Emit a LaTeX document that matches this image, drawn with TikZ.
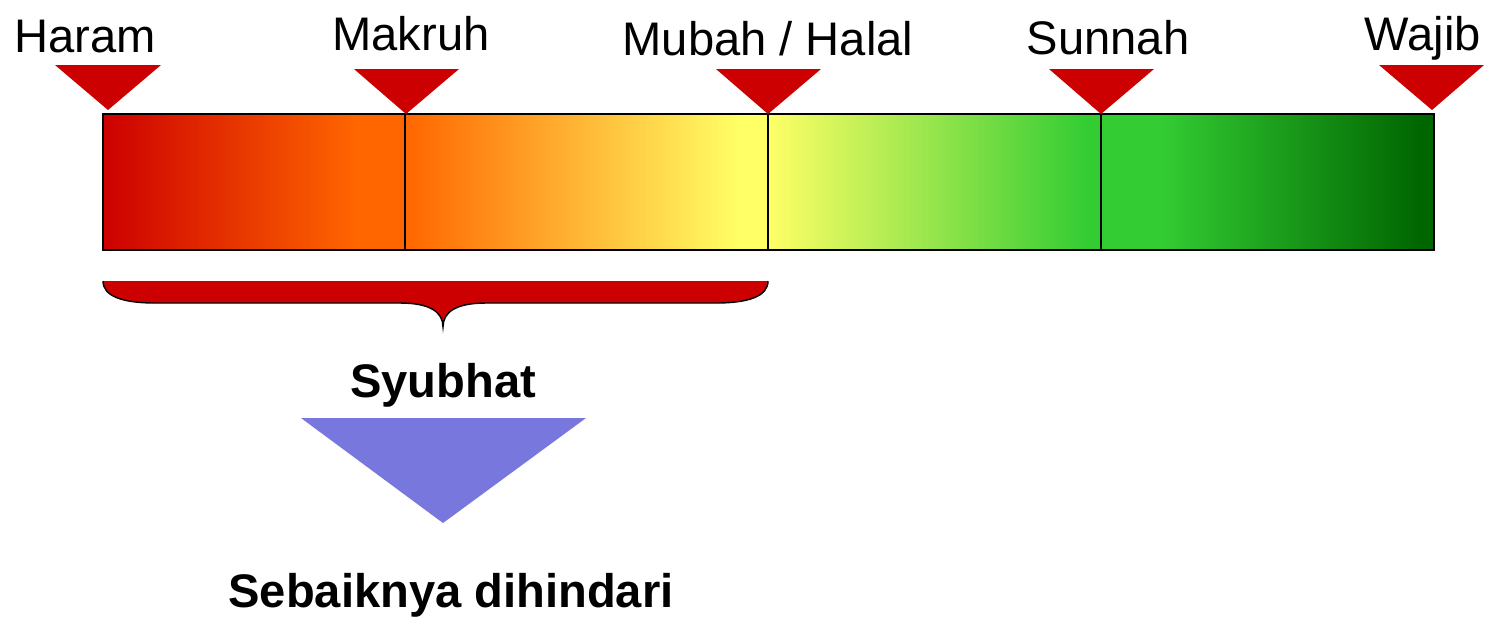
\documentclass[tikz,border=0pt]{standalone}
\usepackage{fontspec}
\setmainfont{Liberation Sans}
\definecolor{mred}{HTML}{CC0000}
\definecolor{morange}{HTML}{FF6600}
\definecolor{myellow}{HTML}{FFFF66}
\definecolor{mgreen}{HTML}{33CC33}
\definecolor{mdgreen}{HTML}{006600}
\definecolor{mblue}{HTML}{7777DD}
\pgfdeclarehorizontalshading{segA}{100bp}{color(0bp)=(mred); color(25bp)=(mred); color(67bp)=(morange); color(100bp)=(morange)}
\pgfdeclarehorizontalshading{segB}{100bp}{color(0bp)=(morange); color(25bp)=(morange); color(71bp)=(myellow); color(100bp)=(myellow)}
\pgfdeclarehorizontalshading{segC}{100bp}{color(0bp)=(myellow); color(25bp)=(myellow); color(73bp)=(mgreen); color(100bp)=(mgreen)}
\pgfdeclarehorizontalshading{segD}{100bp}{color(0bp)=(mgreen); color(34bp)=(mgreen); color(73bp)=(mdgreen); color(100bp)=(mdgreen)}
\begin{document}
\begin{tikzpicture}[x=0.01cm,y=-0.01cm,
  lbl/.style={anchor=base,inner sep=0pt,font=\fontsize{13.4}{16}\selectfont},
  blbl/.style={anchor=base,inner sep=0pt,font=\fontsize{13.4}{16}\selectfont\bfseries},
  marker/.style={fill=mred,draw=none}]
\useasboundingbox (0,0) rectangle (1489,620);
% bar segments
\shade[shading=segA] (103,114) rectangle (405,250);
\shade[shading=segB] (405,114) rectangle (768,250);
\shade[shading=segC] (768,114) rectangle (1101,250);
\shade[shading=segD] (1101,114) rectangle (1434,250);
\draw[line width=0.4pt] (103,114) rectangle (1434,250);
\draw[line width=0.4pt] (405,114) -- (405,250) (768,114) -- (768,250) (1101,114) -- (1101,250);
% markers
\fill[marker] (55,65) -- (161,65) -- (108,110) -- cycle;
\fill[marker] (354,69) -- (459,69) -- (406,114) -- cycle;
\fill[marker] (716,69) -- (821,69) -- (768,114) -- cycle;
\fill[marker] (1049,69) -- (1154,69) -- (1101,114) -- cycle;
\fill[marker] (1379,65) -- (1484,65) -- (1432,110) -- cycle;
% labels
\node[lbl] (haram) at (85,52) {Haram};
\node[lbl] (makruh) at (411,50) {Makruh};
\node[lbl] (mubah) at (768,55) {Mubah / Halal};
\node[lbl] (sunnah) at (1108,54) {Sunnah};
\node[lbl] (wajib) at (1423,50) {Wajib};
% brace
\fill[mred] (103,281) .. controls (103,296) and (122,303) .. (155,303) -- (400,303)
  .. controls (430,303) and (443,312) .. (443,327)
  .. controls (443,312) and (456,303) .. (486,303) -- (716,303)
  .. controls (749,303) and (768,296) .. (768,281) -- cycle;
\draw[line width=0.4pt] (103,281) .. controls (103,296) and (122,303) .. (155,303) -- (400,303)
  .. controls (430,303) and (443,312) .. (443,327)
  .. controls (443,312) and (456,303) .. (486,303) -- (716,303)
  .. controls (749,303) and (768,296) .. (768,281);
\node[blbl] (syubhat) at (443,397) {Syubhat};
\fill[mblue] (301,418) -- (586,418) -- (443,523) -- cycle;
\node[blbl] (hindar) at (451,607) {Sebaiknya dihindari};
\end{tikzpicture}
\end{document}
